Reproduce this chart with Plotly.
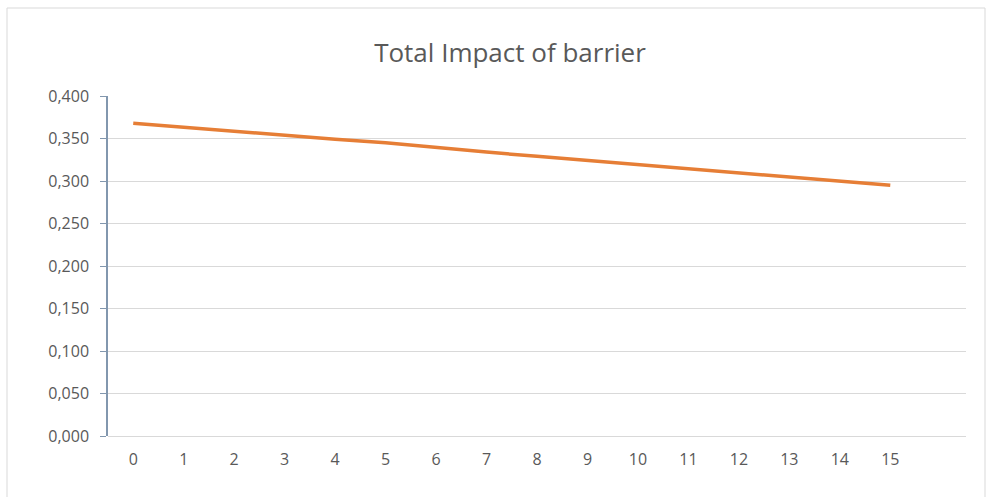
import plotly.graph_objects as go

# Years after installation and the total impact of the barrier
periods = [str(i) for i in range(16)]
impact = [0.368, 0.363, 0.358, 0.354, 0.349, 0.345, 0.339, 0.334,
          0.329, 0.324, 0.319, 0.315, 0.310, 0.305, 0.300, 0.295]
y_ticks = [0.0, 0.05, 0.10, 0.15, 0.20, 0.25, 0.30, 0.35, 0.40]

W, H = 995, 497
L, R, T, B = 108, 29, 96, 61
pw, ph = W - L - R, H - T - B


def px_x(p):
    return (p - L) / pw


def px_y(p):
    return (H - B - p) / ph


fig = go.Figure()
fig.add_trace(go.Scatter(
    x=periods, y=impact, mode="lines",
    line=dict(color="#E67E36", width=3.5),
    showlegend=False, hoverinfo="x+y",
))

font = "Open Sans, Lato, sans-serif"
fig.update_layout(
    width=W, height=H,
    margin=dict(l=L, r=R, t=T, b=B),
    paper_bgcolor="white", plot_bgcolor="white",
    separators=",.",
    title=dict(text="Total Impact of barrier", x=510 / W, xanchor="center",
               y=1 - 53 / H, yanchor="middle",
               font=dict(family=font, size=26, color="#595959")),
    font=dict(family=font, size=16, color="#595959"),
    xaxis=dict(
        type="category",
        categoryorder="array", categoryarray=periods + [" "],
        range=[-0.5, 16.5],
        showgrid=False, zeroline=False, showline=False,
        ticks="", ticklabelstandoff=12,
        tickfont=dict(family=font, size=16, color="#595959"),
        fixedrange=True,
    ),
    yaxis=dict(
        range=[0, 0.4],
        tickvals=y_ticks, tickformat=".3f",
        showgrid=True, gridcolor="#D9D9D9", gridwidth=1,
        zeroline=True, zerolinecolor="#D9D9D9", zerolinewidth=1,
        showline=True, linecolor="#8297AE", linewidth=1.5,
        ticks="outside", ticklen=6, tickcolor="#8297AE", tickwidth=1,
        ticklabelstandoff=8,
        tickfont=dict(family=font, size=16, color="#595959"),
        fixedrange=True,
    ),
    shapes=[dict(
        type="rect", xref="paper", yref="paper",
        x0=px_x(7), x1=px_x(985),
        y0=px_y(520), y1=px_y(8),
        line=dict(color="#D9D9D9", width=1), fillcolor="rgba(0,0,0,0)",
        layer="below",
    )],
)

fig.write_html("out.html")
